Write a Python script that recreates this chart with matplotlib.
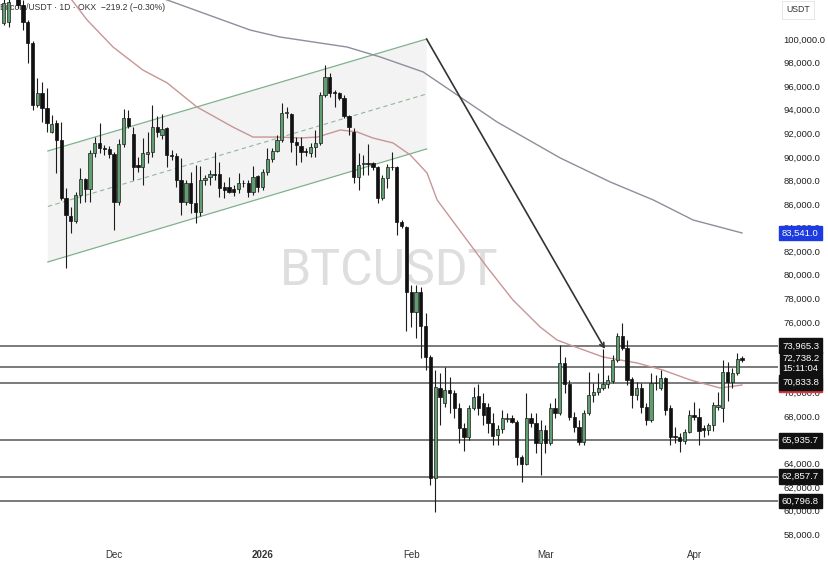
import numpy as np
import pandas as pd
import matplotlib
matplotlib.use("Agg")
import matplotlib.pyplot as plt
import matplotlib.dates as mdates
from matplotlib.patches import Polygon

plt.rcParams['font.family'] = ['Liberation Sans', 'DejaVu Sans']

# ---------------- data (thousand USDT) ----------------
start_date = "2025-11-08"
opens = [101.36, 101.40, 104.20, 103.60, 102.90, 101.44, 99.66, 94.40, 95.42, 94.15,
         92.11, 92.87, 91.43, 86.51, 84.98, 84.56, 86.76, 88.12, 87.27, 90.33,
         91.18, 90.75, 90.67, 90.24, 86.17, 91.09, 93.30, 91.94, 89.31, 89.14,
         90.24, 90.41, 92.53, 91.85, 92.45, 90.16, 90.07, 88.04, 86.17, 87.78,
         86.08, 85.32, 88.04, 88.29, 88.54, 88.54, 87.44, 87.44, 87.27, 87.27,
         87.78, 87.78, 87.02, 88.37, 87.44, 88.71, 89.82, 90.50, 91.43, 93.72,
         93.64, 91.26, 90.92, 90.50, 90.33, 90.84, 91.18, 95.25, 96.78, 95.50,
         95.42, 95.00, 93.47, 92.11, 88.29, 89.39, 89.43, 89.48, 89.14, 86.51,
         88.20, 89.14, 89.14, 84.47, 84.05, 78.53, 76.84, 78.53, 75.65, 72.98,
         62.75, 70.39, 69.12, 70.22, 69.96, 68.69, 66.99, 66.23, 68.69, 69.71,
         69.11, 68.78, 67.42, 66.40, 66.91, 67.76, 67.84, 67.50, 64.53, 63.94,
         67.84, 67.42, 65.72, 66.83, 65.72, 68.69, 68.27, 72.51, 70.73, 67.93,
         67.08, 65.81, 68.27, 69.79, 70.05, 70.39, 70.73, 70.98, 72.76, 74.80,
         73.78, 71.15, 69.79, 70.39, 68.78, 67.67, 70.81, 70.39, 71.24, 68.69,
         66.32, 66.23, 65.89, 66.65, 68.10, 67.93, 66.99, 66.83, 67.25, 68.78,
         68.69, 71.74, 70.90, 71.66, 72.96]
highs = [103.60, 103.80, 104.60, 104.00, 103.30, 101.60, 99.80, 96.69, 96.35, 95.84,
         93.55, 93.13, 92.96, 87.36, 85.75, 87.00, 89.05, 88.21, 90.58, 91.68,
         92.87, 91.00, 90.90, 90.41, 91.50, 94.06, 93.97, 92.53, 89.99, 91.60,
         92.11, 94.40, 93.50, 93.60, 92.53, 90.58, 90.33, 89.90, 88.00, 88.71,
         89.31, 89.22, 88.46, 88.88, 90.41, 89.56, 87.87, 88.29, 87.60, 88.63,
         88.04, 88.00, 89.22, 88.50, 89.00, 90.75, 90.75, 91.85, 94.57, 94.23,
         93.72, 91.68, 91.68, 90.75, 91.20, 92.28, 95.50, 97.79, 97.11, 95.67,
         95.50, 95.25, 93.55, 92.45, 90.33, 90.16, 91.10, 89.60, 89.20, 88.50,
         89.40, 90.41, 89.22, 84.60, 84.13, 79.13, 79.13, 78.96, 76.75, 73.19,
         71.91, 71.66, 72.17, 71.32, 70.22, 69.11, 67.42, 68.95, 70.47, 70.75,
         69.96, 69.11, 68.27, 67.25, 68.52, 68.27, 68.10, 67.67, 64.70, 69.96,
         68.27, 68.27, 67.67, 67.25, 69.11, 69.54, 74.03, 73.02, 71.07, 68.35,
         67.67, 68.52, 71.74, 70.81, 71.66, 73.70, 71.49, 73.19, 75.06, 75.90,
         74.46, 71.32, 70.90, 70.81, 69.11, 71.66, 71.49, 71.91, 71.32, 68.95,
         67.08, 66.57, 66.90, 68.52, 69.20, 68.69, 67.25, 67.42, 69.20, 70.05,
         72.76, 72.59, 72.08, 73.36, 73.10]
lows = [101.20, 101.00, 103.40, 102.63, 100.76, 97.96, 93.97, 94.23, 92.96, 92.11,
        92.03, 88.63, 86.34, 80.57, 83.54, 84.40, 86.08, 86.17, 86.17, 89.99,
        90.33, 90.16, 89.90, 83.79, 85.90, 90.84, 92.45, 88.04, 88.71, 87.61,
        89.48, 89.99, 91.70, 91.50, 89.14, 89.73, 87.44, 85.07, 85.90, 85.24,
        84.39, 84.98, 87.61, 87.61, 88.04, 86.59, 86.51, 86.93, 86.70, 86.93,
        87.44, 86.59, 86.76, 87.02, 87.20, 88.46, 89.56, 90.41, 91.26, 93.30,
        90.41, 89.31, 89.56, 90.07, 90.00, 89.99, 91.00, 95.08, 95.08, 94.23,
        94.80, 93.30, 91.85, 87.78, 87.19, 88.46, 88.46, 88.90, 86.08, 86.30,
        87.36, 88.88, 83.37, 83.96, 75.21, 75.56, 74.63, 72.93, 71.91, 62.15,
        59.87, 67.25, 68.77, 68.27, 67.84, 65.72, 65.04, 65.98, 68.52, 68.10,
        67.25, 66.57, 65.55, 65.55, 66.57, 67.50, 67.42, 63.86, 62.41, 63.86,
        67.08, 64.87, 63.00, 64.87, 65.55, 67.84, 68.10, 69.96, 67.67, 66.65,
        65.55, 65.55, 68.10, 69.20, 69.79, 70.22, 70.39, 70.81, 72.59, 73.61,
        70.64, 68.69, 69.37, 68.27, 67.25, 67.50, 70.22, 70.22, 68.10, 65.55,
        65.72, 64.96, 65.60, 66.57, 67.67, 65.55, 66.23, 66.40, 66.74, 68.52,
        67.50, 69.28, 70.39, 71.49, 72.60]
closes = [103.05, 103.10, 103.60, 102.90, 101.44, 99.66, 94.40, 95.42, 94.15, 92.87,
          92.79, 91.43, 86.51, 85.07, 84.56, 86.76, 88.12, 87.27, 90.33, 91.18,
          90.75, 90.67, 90.24, 86.17, 91.09, 93.30, 92.62, 89.14, 89.14, 90.33,
          90.41, 92.53, 92.11, 92.36, 90.16, 90.07, 88.04, 86.17, 87.78, 86.08,
          85.32, 88.04, 88.21, 88.54, 88.50, 87.36, 87.19, 87.02, 87.02, 87.78,
          87.74, 87.02, 88.29, 87.44, 88.71, 89.82, 90.50, 91.43, 93.72, 93.80,
          91.26, 91.00, 90.41, 90.41, 90.84, 91.18, 95.25, 96.78, 95.42, 95.42,
          95.00, 93.47, 92.53, 88.29, 89.31, 89.43, 89.39, 89.14, 86.51, 88.20,
          89.14, 89.10, 84.47, 84.13, 78.53, 76.84, 78.53, 75.65, 72.98, 62.75,
          70.47, 69.62, 70.22, 69.96, 68.69, 66.99, 66.23, 68.69, 69.62, 68.69,
          68.10, 67.42, 66.32, 66.91, 67.84, 67.84, 67.50, 64.53, 63.94, 67.84,
          67.42, 65.72, 66.83, 65.72, 68.69, 68.27, 72.51, 70.73, 67.93, 67.08,
          65.81, 68.27, 69.79, 70.05, 70.39, 70.73, 71.07, 72.76, 74.80, 73.78,
          71.07, 69.79, 70.39, 68.78, 67.67, 70.81, 70.77, 71.24, 68.52, 66.23,
          66.23, 65.89, 66.65, 68.10, 67.93, 66.74, 66.83, 67.25, 68.95, 68.95,
          71.74, 70.90, 71.66, 72.85, 72.7382]

# moving averages: day offset from 1 Dec 2025, value
ma_slow_days = [0, 11.1, 28.4, 34.6, 48.6, 55.5, 64.5, 72.2, 79.9, 93.1, 103.5, 112.5, 120.8, 131]
ma_slow_vals = [104.9, 103.31, 100.76, 100.17, 99.32, 98.48, 97.20, 95.08, 92.96, 89.90, 87.87, 86.34, 84.64, 83.541]
ma_fast_days = [-8.8, -5.6, -0.2, 6.0, 11.1, 17.3, 24.8, 29.0, 34.6, 38.8, 42.4, 47.2, 50.7, 54.0,
                58.2, 61.8, 65.3, 67.4, 73.6, 77.8, 83.2, 88.9, 92.4, 95.1, 102.0, 109.1, 114.5,
                120.2, 126.4, 131]
ma_fast_vals = [103.31, 101.61, 99.32, 97.37, 96.27, 94.23, 92.53, 91.68, 91.68, 91.60, 91.68, 92.28,
                92.11, 91.60, 91.18, 90.16, 88.63, 86.34, 82.95, 80.65, 77.86, 75.56, 74.46, 74.04,
                73.02, 72.51, 71.91, 71.07, 70.39, 70.64]

# drawn channel (day offsets, thousand USDT)
channel_days = [-13.8, 65.2]
channel_upper = [90.50, 100.0]
channel_lower = [81.08, 90.67]
# arrow drawing
arrow_days = [65.2, 102.4]
arrow_vals = [100.0, 73.7]

# horizontal levels (USDT)
levels = [73965.3, 72200.0, 70833.8, 65935.7, 62857.7, 60796.8]
level_labels = ["73,965.3", None, "70,833.8", "65,935.7", "62,857.7", "60,796.8"]
last_price = 72738.2
countdown = "15:11:04"

title_text = "Bitcoin/USDT · 1D · OKX  −219.2 (−0.30%)"
tick_dates = ["2025-12-01", "2026-01-01", "2026-02-01", "2026-03-01", "2026-04-01"]
tick_labels = ["Dec", "2026", "Feb", "Mar", "Apr"]
# price-scale ticks completely covered by the label boxes in the reference
hidden_ticks = [74000, 72000, 66000]

# ---------------- figure ----------------
W, H = 829, 562
fig = plt.figure(figsize=(W / 100, H / 100), dpi=100)
ax = fig.add_axes([0, 20 / H, 778 / W, 542 / H])
ax.set_facecolor("white")

ref = pd.Timestamp("2025-12-01")
ref_num = mdates.date2num(ref)
dates = pd.date_range(start_date, periods=len(opens), freq="D")
x = mdates.date2num(dates)
o = np.array(opens) * 1000
h = np.array(highs) * 1000
l = np.array(lows) * 1000
c = np.array(closes) * 1000

def dx(days):
    return ref_num + np.asarray(days, dtype=float)

# channel
cx = dx(channel_days)
cu = np.array(channel_upper) * 1000
cl = np.array(channel_lower) * 1000
poly = Polygon([[cx[0], cl[0]], [cx[1], cl[1]], [cx[1], cu[1]], [cx[0], cu[0]]],
               closed=True, facecolor="#f3f3f3", edgecolor="none", zorder=0.5)
ax.add_patch(poly)
ax.plot(cx, cu, color="#7fb28a", lw=0.9, zorder=1)
ax.plot(cx, cl, color="#7fb28a", lw=0.9, zorder=1)
ax.plot(cx, (cu + cl) / 2, color="#8fb898", lw=0.8, ls=(0, (4, 3)), zorder=1)

# watermark
ax.text(0.5, 0.5, "BTCUSDT", transform=ax.transAxes, ha="center", va="center",
        fontsize=36, color="#dedede", family=["Roboto", "DejaVu Sans"], zorder=0.3)

# title
ax.text(0.0, 1 - 8 / 542, title_text, transform=ax.transAxes, ha="left", va="center",
        fontsize=6.2, color="#333333", zorder=0.8)

# horizontal levels
for lv in levels:
    ax.axhline(lv, color="#707070", lw=1.3, zorder=1.5)

# moving averages
ax.plot(dx(ma_slow_days), np.array(ma_slow_vals) * 1000, color="#8e8e9c", lw=1.0, zorder=2)
ax.plot(dx(ma_fast_days), np.array(ma_fast_vals) * 1000, color="#c99595", lw=1.0, zorder=2)

# arrow
ax.annotate("", xy=(dx(arrow_days[1]), arrow_vals[1] * 1000),
            xytext=(dx(arrow_days[0]), arrow_vals[0] * 1000),
            arrowprops=dict(arrowstyle="->", color="#333333", lw=1.2, mutation_scale=8,
                            shrinkA=0, shrinkB=0), zorder=2.5)

# candles
up = c >= o
body_bot = np.minimum(o, c)
body_h = np.maximum(np.abs(c - o), 70)
ax.vlines(x, l, h, color="#1c1c1c", lw=0.8, zorder=3)
ax.bar(x[up], body_h[up], bottom=body_bot[up], width=0.68, color="#5f9e6e",
       edgecolor="#1c1c1c", linewidth=0.5, zorder=4)
ax.bar(x[~up], body_h[~up], bottom=body_bot[~up], width=0.68, color="#111111",
       edgecolor="#111111", linewidth=0.5, zorder=4)

# axes limits
ax.set_xlim(ref_num - 23.78, ref_num + 138.5)
ax.set_ylim(57320, 103309)
for s in ax.spines.values():
    s.set_visible(False)

# y axis on right
ax.yaxis.tick_right()
yt = np.arange(58000, 100001, 2000)
ax.set_yticks(yt)
ax.set_yticklabels(["" if v in hidden_ticks else f"{v:,.1f}" for v in yt])
ax.tick_params(axis="y", length=0, pad=4, labelsize=6.8, labelcolor="#222222")

# x axis
ax.set_xticks(mdates.date2num(pd.to_datetime(tick_dates)))
ax.set_xticklabels(tick_labels)
ax.tick_params(axis="x", length=0, pad=6, labelsize=7, labelcolor="#333333")
for t in ax.get_xticklabels():
    if t.get_text() == "2026":
        t.set_fontweight("bold")

# price labels on scale
def price_label(val, text, fc, tc="white", z=5, dy=0):
    ax.annotate(text, xy=(1, val), xycoords=("axes fraction", "data"),
                xytext=(4, dy), textcoords="offset pixels", ha="left", va="center",
                fontsize=6.8, color=tc, annotation_clip=False, zorder=z,
                bbox=dict(boxstyle="square,pad=0.3", fc=fc, ec=fc))

price_label(ma_fast_vals[-1] * 1000, f"{ma_fast_vals[-1] * 1000:,.1f}", "#d9363e", z=5)
price_label(ma_slow_vals[-1] * 1000, f"{ma_slow_vals[-1] * 1000:,.1f}", "#1c3be0", z=6)
for lv, lab in zip(levels, level_labels):
    if lab:
        price_label(lv, lab, "#111111", z=7)
ax.annotate(f"{last_price:,.1f}\n{countdown}", xy=(1, last_price), xycoords=("axes fraction", "data"),
            xytext=(4, 6), textcoords="offset pixels", ha="left", va="top",
            fontsize=6.8, color="white", annotation_clip=False, zorder=8, linespacing=1.1,
            bbox=dict(boxstyle="square,pad=0.25", fc="#111111", ec="#111111"))

# currency box
fig.text(786 / W, 1 - 10 / H, "USDT", ha="left", va="center", fontsize=6.3, color="#333333",
         bbox=dict(boxstyle="square,pad=0.5", fc="white", ec="#e3e3e3", lw=0.6))

fig.savefig("out.png", dpi=100, facecolor="white")
